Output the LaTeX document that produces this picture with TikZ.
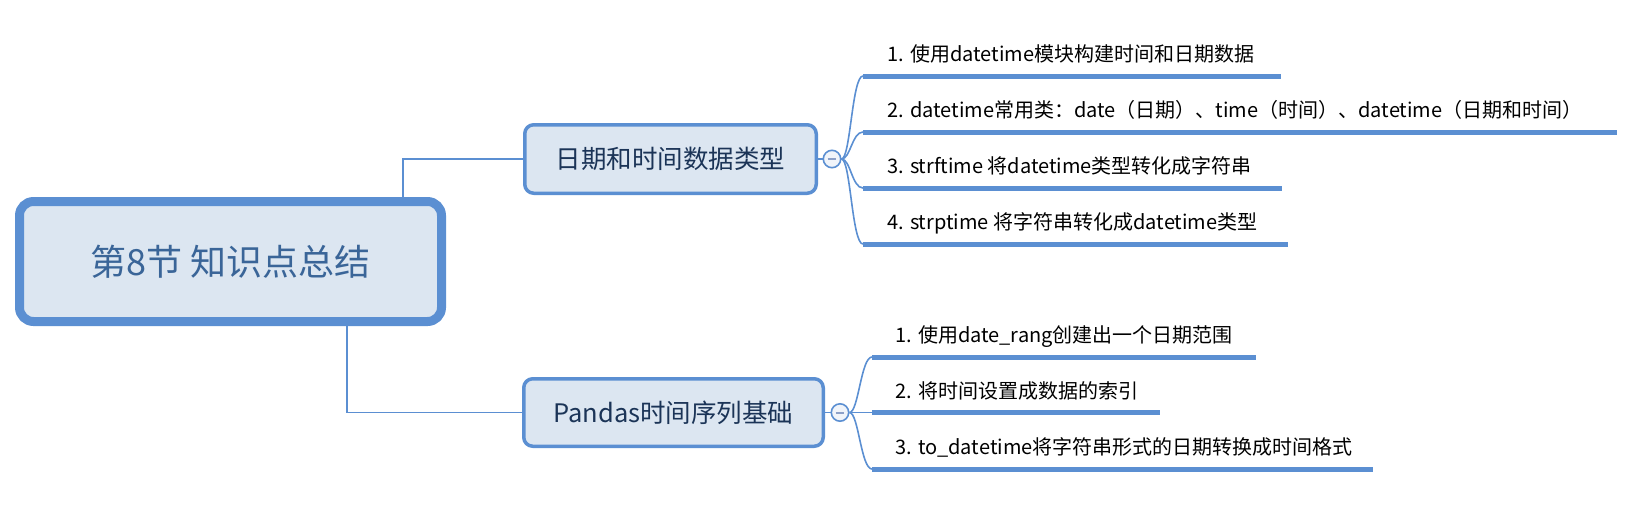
\documentclass[tikz,border=0pt]{standalone}
\usepackage{fontspec}
\setmainfont{Noto Sans CJK SC}
\definecolor{bblue}{RGB}{91,143,210}
\definecolor{bfill}{RGB}{220,230,241}
\definecolor{roottext}{RGB}{58,101,152}
\definecolor{boxtext}{RGB}{27,52,87}
\definecolor{minuscol}{RGB}{140,160,200}
\definecolor{circfill}{RGB}{240,244,250}
\begin{document}
\begin{tikzpicture}[x=0.5pt,y=-0.5pt,
 rootbox/.style={draw=bblue, fill=bfill, line width=4.5pt, rounded corners=7pt, minimum width=211pt, minimum height=60pt, inner sep=0pt, text=roottext, font=\fontsize{18pt}{20pt}\selectfont},
 topicbox/.style={draw=bblue, fill=bfill, line width=1.75pt, rounded corners=4.5pt, inner sep=0pt, text=boxtext, font=\fontsize{12.75pt}{15pt}\selectfont},
 toggle/.style={circle, draw=bblue, fill=circfill, line width=0.8pt, minimum size=8.7pt, inner sep=0pt},
 conn/.style={draw=bblue, line width=0.8pt},
 branch/.style={draw=bblue, line width=0.8pt},
 uline/.style={draw=bblue, line width=2.5pt},
 minus/.style={draw=minuscol, line width=1pt},
 item/.style={anchor=base west, inner sep=0pt, text=black, font=\fontsize{10pt}{12pt}\selectfont},
]
\useasboundingbox (0,0) rectangle (1646,516);

% root and topics
\node[rootbox] (root) at (230.5,261.5) {第8节 知识点总结};
\node[topicbox, minimum width=145.75pt, minimum height=34.25pt] (top) at (670.5,159) {日期和时间数据类型};
\node[topicbox, minimum width=149.75pt, minimum height=33.75pt] (bot) at (673.5,412.5) {Pandas时间序列基础};

% connectors root -> topics
\coordinate (k1) at (403,159);
\coordinate (k2) at (347,412.5);
\draw[conn] (top.west) -- (k1) -- (k1 |- root.north);
\draw[conn] (bot.west) -- (k2) -- (k2 |- root.south);

% toggles
\node[toggle] (c1) at (832,159) {};
\node[toggle] (c2) at (840,412.5) {};
\draw[minus] ([xshift=-2.2pt]c1.center) -- ([xshift=2.2pt]c1.center);
\draw[minus] ([xshift=-2.2pt]c2.center) -- ([xshift=2.2pt]c2.center);
\draw[conn] (top.east) -- (c1.west);
\draw[conn] (bot.east) -- (c2.west);

% top group underlines
\coordinate (t1a) at (863,76);  \coordinate (t1b) at (1281,76);
\coordinate (t2a) at (863,132); \coordinate (t2b) at (1617,132);
\coordinate (t3a) at (863,188); \coordinate (t3b) at (1282,188);
\coordinate (t4a) at (863,244); \coordinate (t4b) at (1288,244);
\foreach \i in {1,2,3,4}{
  \draw[uline] (t\i a) -- (t\i b);
  \draw[branch] (c1.east) .. controls +(9,0) and +(-11,0) .. (t\i a);
}
\node[item] (i1) at (887,61.5) {1. 使用datetime模块构建时间和日期数据};
\node[item] (i2) at (887,117.5) {2. datetime常用类：date（日期）、time（时间）、datetime（日期和时间）};
\node[item] (i3) at (887,173.5) {3. strftime 将datetime类型转化成字符串};
\node[item] (i4) at (887,229.5) {4. strptime 将字符串转化成datetime类型};

% bottom group underlines
\coordinate (b1a) at (872,357); \coordinate (b1b) at (1256,357);
\coordinate (b2a) at (872,412.5); \coordinate (b2b) at (1160,412.5);
\coordinate (b3a) at (872,469); \coordinate (b3b) at (1373,469);
\foreach \i in {1,2,3}{
  \draw[uline] (b\i a) -- (b\i b);
}
\draw[branch] (c2.east) .. controls +(9,0) and +(-11,0) .. (b1a);
\draw[branch] (c2.east) -- (b2a);
\draw[branch] (c2.east) .. controls +(9,0) and +(-11,0) .. (b3a);
\node[item] (j1) at (895,342.5) {1. 使用date\_rang创建出一个日期范围};
\node[item] (j2) at (895,398.5) {2. 将时间设置成数据的索引};
\node[item] (j3) at (895,454.5) {3. to\_datetime将字符串形式的日期转换成时间格式};
\end{tikzpicture}
\end{document}
